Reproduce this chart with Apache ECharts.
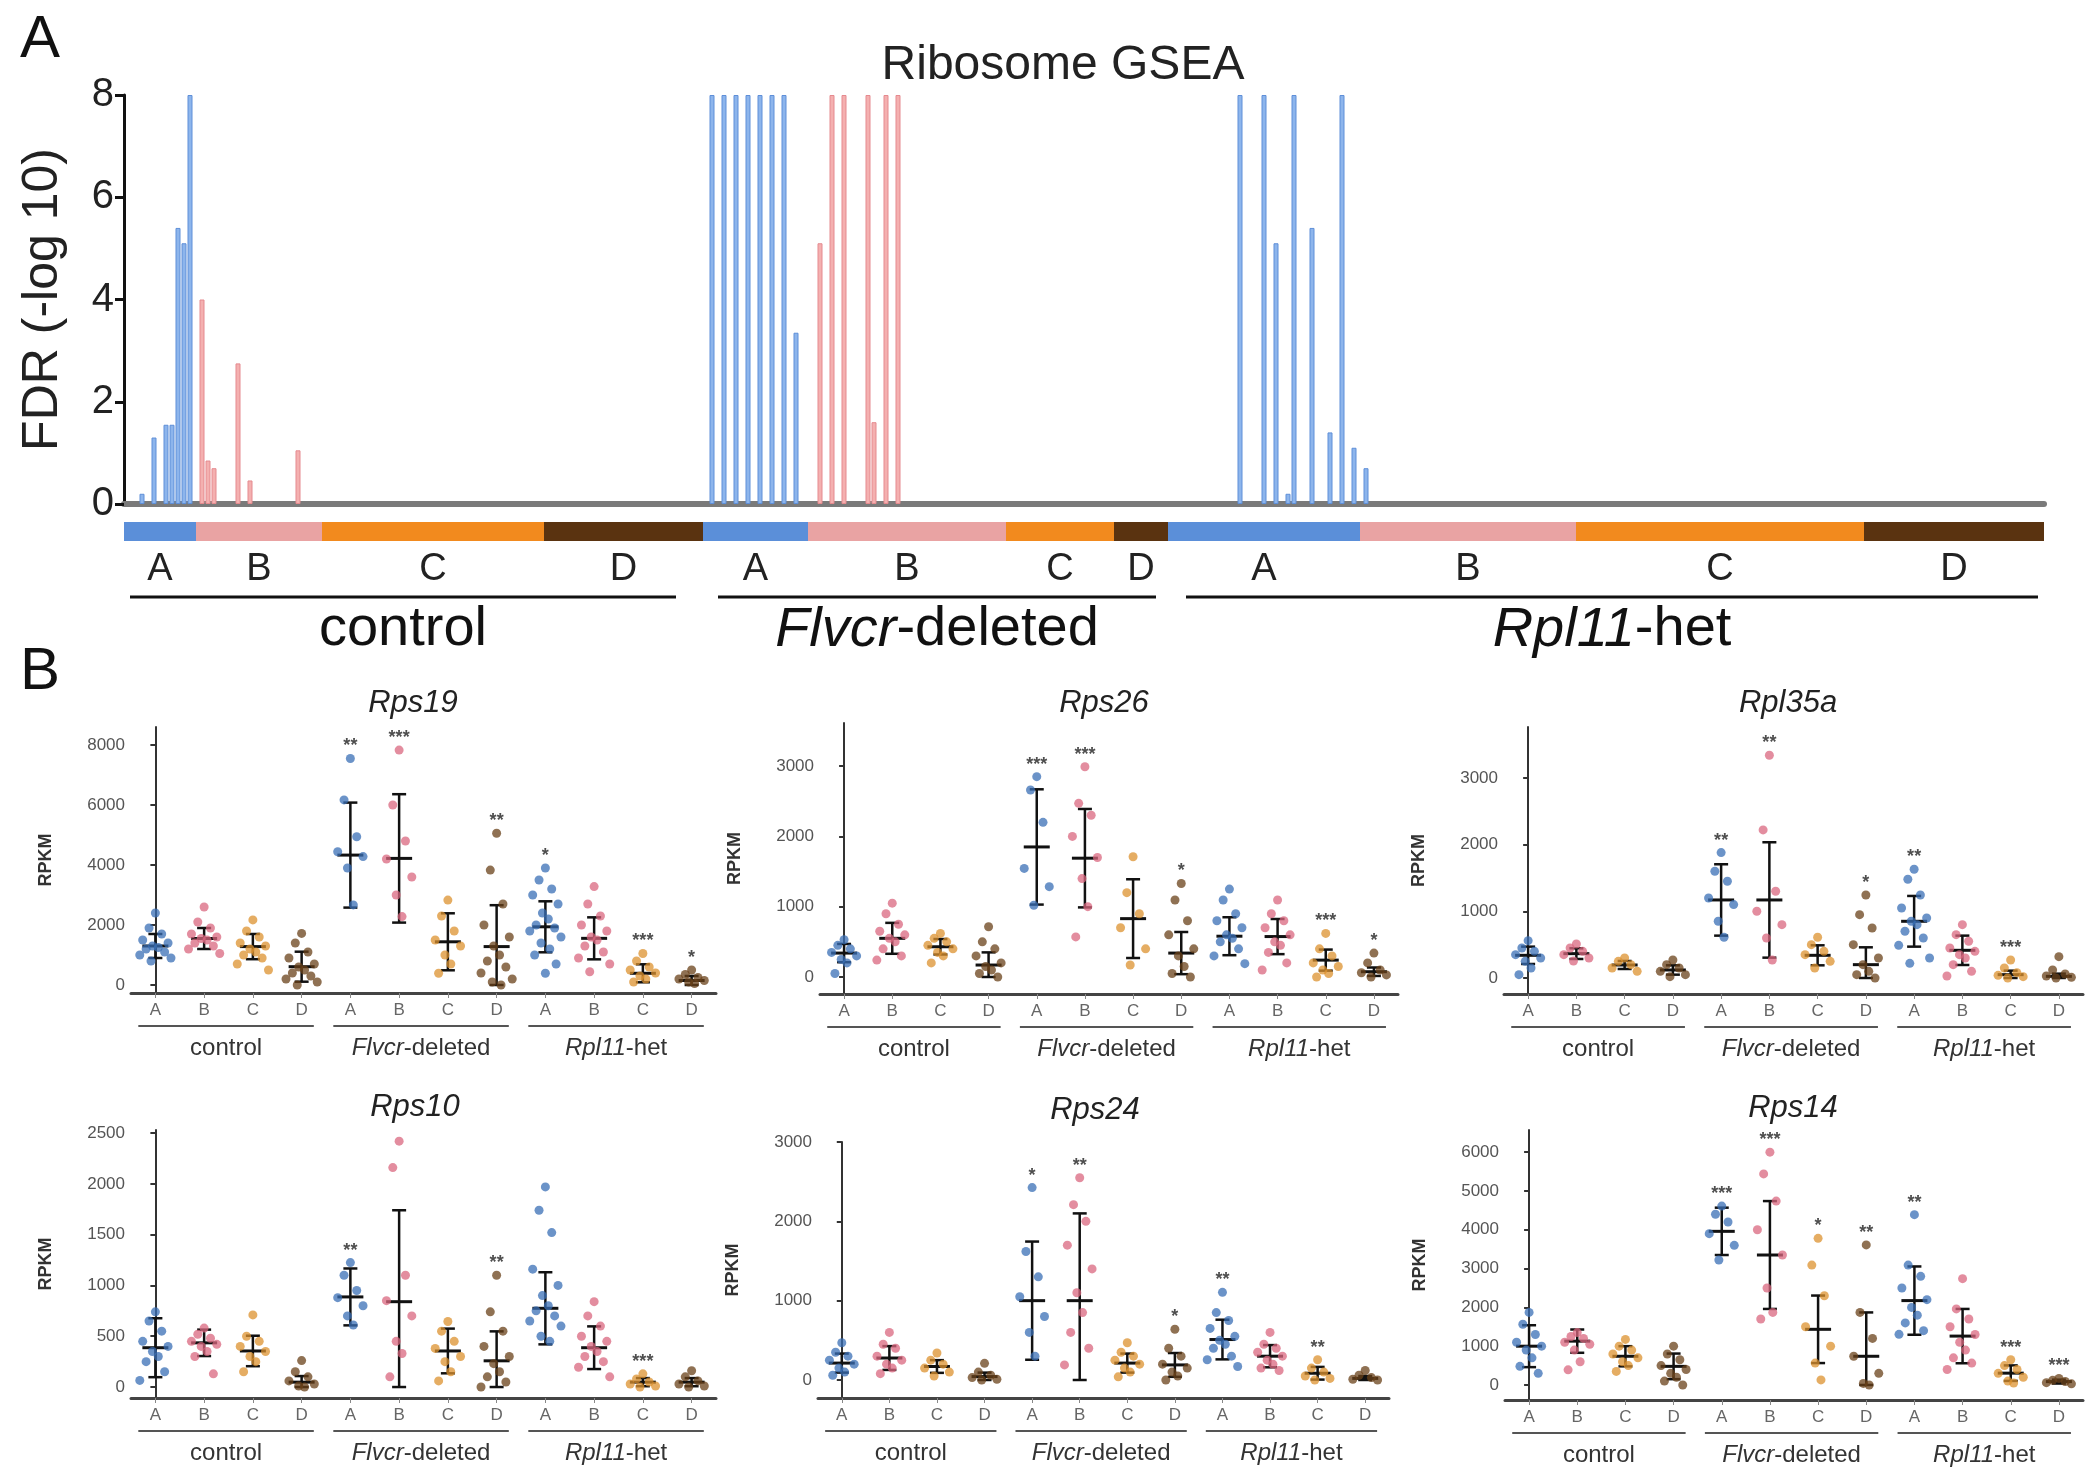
<!DOCTYPE html>
<html>
<head>
<meta charset="utf-8">
<script src="https://cdn.jsdelivr.net/npm/echarts@6/dist/echarts.min.js"></script>
<style>
html, body { margin: 0; padding: 0; background: #fff; }
#chart { width: 2100px; height: 1478px; }
</style>
</head>
<body>
<div id="chart"></div>
<script>
const FONT = '"Liberation Sans", Arial, Helvetica, sans-serif'

// ---- panel A: ribosome GSEA, one bar per sample (x = sample index) ----
const gseaBluePos = [3, 5, 7, 8, 9, 10, 11, 98, 100, 102, 104, 106, 108, 110, 112, 186, 190, 192, 194, 195, 198, 201, 203, 205, 207]
const gseaBlueFdr = [0.2, 1.3, 1.55, 1.55, 5.4, 5.1, 8, 8, 8, 8, 8, 8, 8, 8, 3.35, 8, 8, 5.1, 0.2, 8, 5.4, 1.4, 8, 1.1, 0.7]
const gseaPinkPos = [13, 14, 15, 19, 21, 29, 116, 118, 120, 124, 125, 127, 129]
const gseaPinkFdr = [4.0, 0.85, 0.7, 2.75, 0.46, 1.05, 5.1, 8, 8, 8, 1.6, 8, 8]
const fdrTicks = [0, 2, 4, 6, 8]
const stripEdges = [0, 12, 33, 70, 96.5, 114, 147, 165, 174, 206, 242, 290, 320]
const stripLetters = ['A', 'B', 'C', 'D', 'A', 'B', 'C', 'D', 'A', 'B', 'C', 'D']
const groupNames = ['control', '{i|Flvcr}-deleted', '{i|Rpl11}-het']
const gseaGroupSpans = [[1, 92], [99, 172], [177, 319]]

// ---- panel B: RPKM per sample group ----
const sampleLetters = ['A', 'B', 'C', 'D', 'A', 'B', 'C', 'D', 'A', 'B', 'C', 'D']
const plotGroupSpans = [[0, 3], [4, 7], [8, 11]]

const rps19Ticks = [0, 2000, 4000, 6000, 8000]
const rps19Points = [
  [2400, 1900, 1700, 1500, 1400, 1300, 1250, 1200, 1100, 1000, 900, 800],
  [2600, 2100, 1900, 1700, 1600, 1550, 1500, 1400, 1300, 1200, 1050],
  [2170, 1800, 1600, 1400, 1300, 1200, 1100, 1000, 900, 700, 500],
  [1720, 1400, 1100, 900, 700, 600, 500, 400, 300, 200, 100, 0],
  [7550, 6170, 4940, 4440, 4280, 3900, 2670],
  [7830, 6000, 4800, 4200, 3600, 3000, 2280],
  [2830, 2300, 1800, 1500, 1300, 1000, 700, 390],
  [5060, 3830, 2700, 2000, 1600, 1300, 1000, 800, 600, 400, 200, 100, 0],
  [3900, 3500, 3200, 3000, 2700, 2400, 2200, 2000, 1900, 1800, 1600, 1400, 1200, 1000, 700, 390],
  [3280, 2700, 2300, 2000, 1800, 1600, 1500, 1300, 1100, 900, 700, 440],
  [1050, 800, 600, 500, 400, 300, 200, 100],
  [500, 350, 250, 200, 150, 100, 50]
]
const rps19Mean = [1300, 1550, 1280, 610, 4330, 4220, 1440, 1280, 1940, 1555, 390, 150]
const rps19Sd = [400, 350, 420, 500, 1750, 2140, 950, 1380, 850, 700, 300, 150]
const rps19Stars = ['', '', '', '', '**', '***', '', '**', '*', '', '***', '*']

const rps26Ticks = [0, 1000, 2000, 3000]
const rps26Points = [
  [530, 450, 400, 350, 300, 250, 200, 50],
  [1050, 900, 750, 650, 600, 550, 500, 400, 300, 240],
  [620, 550, 500, 450, 400, 350, 300, 200],
  [715, 500, 400, 300, 200, 150, 100, 50, 0],
  [2850, 2660, 2200, 1545, 1285, 1020],
  [2990, 2470, 2300, 2000, 1700, 1400, 1000, 570],
  [1710, 1200, 900, 700, 400, 170],
  [1330, 1095, 800, 600, 400, 300, 150, 50, 0],
  [1250, 1095, 900, 800, 700, 600, 550, 500, 400, 300, 190],
  [1095, 900, 800, 700, 600, 500, 450, 350, 200, 100],
  [620, 400, 300, 200, 150, 100, 50, 0],
  [340, 200, 100, 60, 30, 0]
]
const rps26Mean = [340, 550, 430, 170, 1850, 1690, 830, 340, 580, 575, 240, 75]
const rps26Sd = [130, 220, 110, 180, 820, 700, 560, 300, 270, 250, 150, 60]
const rps26Stars = ['', '', '', '', '***', '***', '', '*', '', '', '***', '*']

const rpl35aTicks = [0, 1000, 2000, 3000]
const rpl35aPoints = [
  [560, 450, 400, 350, 300, 250, 150, 50],
  [510, 450, 400, 350, 300, 255],
  [300, 250, 200, 150, 100],
  [270, 200, 150, 100, 50, 20],
  [1880, 1600, 1450, 1200, 1100, 850, 610],
  [3340, 2220, 1300, 1000, 800, 600, 270],
  [610, 500, 400, 350, 250, 150],
  [1245, 950, 750, 500, 300, 200, 100, 50, 0],
  [1630, 1480, 1245, 1050, 900, 850, 800, 700, 600, 490, 300, 220],
  [800, 650, 550, 450, 400, 350, 300, 200, 100, 30],
  [270, 150, 80, 40, 20, 0],
  [320, 120, 60, 30, 10, 0]
]
const rpl35aMean = [340, 365, 195, 120, 1170, 1170, 340, 200, 850, 415, 50, 25]
const rpl35aSd = [130, 80, 60, 70, 535, 865, 150, 260, 380, 220, 60, 40]
const rpl35aStars = ['', '', '', '', '**', '**', '', '*', '**', '', '***', '']

const rps10Ticks = [0, 500, 1000, 1500, 2000, 2500]
const rps10Points = [
  [740, 650, 550, 450, 400, 350, 300, 250, 150, 65],
  [580, 520, 480, 450, 420, 400, 350, 300, 130],
  [710, 500, 450, 400, 350, 300, 250, 150],
  [260, 150, 100, 60, 30, 10, 0],
  [1225, 1100, 950, 880, 800, 700, 610],
  [2420, 2160, 1100, 850, 700, 450, 330, 100],
  [645, 550, 450, 380, 300, 250, 150, 60],
  [1100, 740, 550, 400, 300, 230, 150, 100, 50, 0],
  [1970, 1740, 1520, 1160, 1000, 900, 800, 750, 700, 650, 600, 500, 450],
  [840, 700, 600, 500, 450, 400, 350, 300, 250, 195, 100],
  [130, 80, 50, 30, 10, 0],
  [160, 100, 60, 30, 10, 0]
]
const rps10Mean = [387, 435, 355, 48, 887, 840, 355, 258, 775, 387, 48, 48]
const rps10Sd = [290, 130, 150, 60, 280, 900, 220, 290, 355, 210, 40, 40]
const rps10Stars = ['', '', '', '', '**', '', '', '**', '', '', '***', '']

const rps24Ticks = [0, 1000, 2000, 3000]
const rps24Points = [
  [470, 350, 300, 250, 200, 150, 100, 60],
  [600, 450, 400, 300, 250, 200, 150, 80],
  [340, 250, 200, 150, 100, 50],
  [210, 100, 60, 30, 10, 0],
  [2425, 1620, 1300, 1050, 800, 600, 300],
  [2550, 2210, 2000, 1700, 1400, 1100, 850, 600, 400, 190],
  [470, 350, 300, 250, 200, 150, 100, 40],
  [640, 400, 300, 200, 150, 100, 50, 0],
  [1105, 850, 750, 650, 550, 500, 450, 400, 300, 255, 170],
  [600, 450, 400, 350, 300, 250, 200, 150, 120],
  [255, 150, 100, 50, 20, 0],
  [120, 60, 30, 10, 0]
]
const rps24Mean = [213, 277, 170, 43, 1000, 1000, 213, 190, 510, 300, 85, 20]
const rps24Sd = [120, 150, 80, 50, 745, 1100, 120, 150, 250, 140, 80, 30]
const rps24Stars = ['', '', '', '', '*', '**', '', '*', '**', '', '**', '']

const rps14Ticks = [0, 1000, 2000, 3000, 4000, 5000, 6000]
const rps14Points = [
  [1870, 1565, 1300, 1100, 1000, 900, 700, 480, 300],
  [1350, 1250, 1200, 1100, 1050, 900, 600, 390],
  [1175, 1000, 900, 800, 700, 600, 500, 350],
  [1000, 800, 650, 500, 400, 300, 200, 100, 0],
  [4610, 4400, 4200, 3900, 3600, 3220],
  [6000, 5440, 4740, 4000, 3350, 2500, 1870, 1700],
  [3780, 3090, 2300, 1500, 1000, 565, 130],
  [3610, 1870, 1200, 740, 300, 40, 0],
  [4390, 3090, 2800, 2500, 2200, 2000, 1800, 1600, 1400, 1305],
  [2740, 1960, 1700, 1500, 1300, 1100, 900, 700, 565, 400],
  [650, 500, 400, 300, 200, 100, 50],
  [170, 120, 90, 60, 30]
]
const rps14Mean = [1000, 1130, 740, 480, 3960, 3350, 1435, 740, 2175, 1260, 305, 87]
const rps14Sd = [540, 300, 260, 330, 610, 1390, 870, 1130, 880, 700, 200, 50]
const rps14Stars = ['', '', '', '', '***', '***', '*', '**', '**', '', '***', '***']

const genes = [
  { name: 'Rps19', points: rps19Points, mean: rps19Mean, sd: rps19Sd, stars: rps19Stars, ticks: rps19Ticks },
  { name: 'Rps26', points: rps26Points, mean: rps26Mean, sd: rps26Sd, stars: rps26Stars, ticks: rps26Ticks },
  { name: 'Rpl35a', points: rpl35aPoints, mean: rpl35aMean, sd: rpl35aSd, stars: rpl35aStars, ticks: rpl35aTicks },
  { name: 'Rps10', points: rps10Points, mean: rps10Mean, sd: rps10Sd, stars: rps10Stars, ticks: rps10Ticks },
  { name: 'Rps24', points: rps24Points, mean: rps24Mean, sd: rps24Sd, stars: rps24Stars, ticks: rps24Ticks },
  { name: 'Rps14', points: rps14Points, mean: rps14Mean, sd: rps14Sd, stars: rps14Stars, ticks: rps14Ticks }
]

// layout of the six small plots (pixels) and their axis extents
const plotLayout = [
  { left: 131, top: 727, width: 585, height: 266, min: -267, max: 8600, tx: 413, ty: 703 },
  { left: 820, top: 723, width: 578, height: 271, min: -242, max: 3613, tx: 1104, ty: 703 },
  { left: 1504, top: 727, width: 579, height: 267, min: -240, max: 3763, tx: 1788, ty: 703 },
  { left: 131, top: 1130, width: 585, height: 268, min: -108, max: 2530, tx: 415, ty: 1107 },
  { left: 818, top: 1142, width: 571, height: 256, min: -227, max: 3000, tx: 1095, ty: 1110 },
  { left: 1505, top: 1130, width: 578, height: 270, min: -387, max: 6572, tx: 1793, ty: 1108 }
]

const stripColors = { A: '#5b8fd9', B: '#e9a3a3', C: '#f28a1e', D: '#5a3310' }
const dotColors = { A: '#3a6fb5', B: '#d9677f', C: '#dc922f', D: '#6a4219' }
const jitter = [0, -0.13, 0.13, -0.26, 0.26, -0.06, 0.06, -0.19, 0.19, -0.32, 0.32, -0.09, 0.09, -0.22, 0.22, 0]

const chart = echarts.init(document.getElementById('chart'))

const grids = [{ left: 124, top: 95, width: 1920, height: 409 }]
const xAxes = [{
  type: 'value', gridIndex: 0, min: 0, max: 320,
  axisLine: { show: true, onZero: false, lineStyle: { color: '#7a7a7a', width: 6 } },
  axisTick: { show: false }, axisLabel: { show: false }, splitLine: { show: false }
}]
const yAxes = [{
  type: 'value', gridIndex: 0, min: 0, max: 8, interval: 2,
  name: 'FDR (-log 10)', nameLocation: 'middle', nameGap: 56,
  nameTextStyle: { fontSize: 50, fontFamily: FONT, color: '#222' },
  axisLine: { show: true, lineStyle: { color: '#111', width: 3 } },
  axisTick: { show: true, length: 9, lineStyle: { color: '#111', width: 3 } },
  axisLabel: { fontSize: 40, fontFamily: FONT, color: '#222', margin: 10 },
  splitLine: { show: false }
}]

const series = [
  {
    type: 'bar', xAxisIndex: 0, yAxisIndex: 0, barWidth: 5, barGap: '-100%',
    data: gseaBluePos.map((p, i) => [p, gseaBlueFdr[i]]),
    itemStyle: { color: '#8db5ec', borderColor: '#5f8fd8', borderWidth: 1 }
  },
  {
    type: 'bar', xAxisIndex: 0, yAxisIndex: 0, barWidth: 5, barGap: '-100%',
    data: gseaPinkPos.map((p, i) => [p, gseaPinkFdr[i]]),
    itemStyle: { color: '#f4b0b0', borderColor: '#e58a8f', borderWidth: 1 }
  },
  {
    type: 'custom', xAxisIndex: 0, yAxisIndex: 0, silent: true,
    data: stripLetters.map((l, i) => [stripEdges[i], stripEdges[i + 1], i]),
    renderItem(params, api) {
      const i = api.value(2)
      const p0 = api.coord([api.value(0), 0])
      const p1 = api.coord([api.value(1), 0])
      return {
        type: 'group',
        children: [
          { type: 'rect', shape: { x: p0[0], y: p0[1] + 18, width: p1[0] - p0[0], height: 19 },
            style: { fill: stripColors[stripLetters[i]] } },
          { type: 'text', x: (p0[0] + p1[0]) / 2, y: p0[1] + 66,
            style: { text: stripLetters[i], fill: '#222', fontSize: 38, fontFamily: FONT, align: 'center', verticalAlign: 'middle' } }
        ]
      }
    }
  },
  {
    type: 'custom', xAxisIndex: 0, yAxisIndex: 0, silent: true,
    data: gseaGroupSpans.map((s, i) => [s[0], s[1], i]),
    renderItem(params, api) {
      const i = api.value(2)
      const p0 = api.coord([api.value(0), 0])
      const p1 = api.coord([api.value(1), 0])
      return {
        type: 'group',
        children: [
          { type: 'line', shape: { x1: p0[0], y1: p0[1] + 93, x2: p1[0], y2: p0[1] + 93 },
            style: { stroke: '#111', lineWidth: 3 } },
          { type: 'text', x: (p0[0] + p1[0]) / 2, y: p0[1] + 126,
            style: {
              text: groupNames[i], fill: '#111', fontSize: 56, fontFamily: FONT, align: 'center', verticalAlign: 'middle',
              rich: { i: { fontStyle: 'italic', fontSize: 56, fontFamily: FONT, fill: '#111', color: '#111' } }
            } }
        ]
      }
    }
  }
]

const graphics = [
  { type: 'text', x: 20, y: 10, style: { text: 'A', fontSize: 60, fontFamily: FONT, fill: '#111' } },
  { type: 'text', x: 20, y: 642, style: { text: 'B', fontSize: 60, fontFamily: FONT, fill: '#111' } },
  { type: 'text', x: 1063, y: 66,
    style: { text: 'Ribosome GSEA', fontSize: 48, fontFamily: FONT, fill: '#222', align: 'center', verticalAlign: 'middle' } }
]

genes.forEach((g, p) => {
  const L = plotLayout[p]
  const gi = p + 1
  const catAxis = xAxes.length
  const valAxis = catAxis + 1
  const yi = yAxes.length
  grids.push({ left: L.left, top: L.top, width: L.width, height: L.height })
  xAxes.push({
    type: 'category', gridIndex: gi, data: sampleLetters,
    axisLine: { show: true, onZero: false, lineStyle: { color: '#444', width: 3 } },
    axisTick: { show: true, alignWithLabel: true, length: 5, lineStyle: { color: '#888' } },
    axisLabel: { fontSize: 17, fontFamily: FONT, color: '#666', margin: 9 },
    splitLine: { show: false }
  })
  xAxes.push({ type: 'value', gridIndex: gi, min: -0.5, max: 11.5, show: false })
  yAxes.push({
    type: 'value', gridIndex: gi, min: L.min, max: L.max,
    name: 'RPKM', nameLocation: 'middle', nameGap: 76,
    nameTextStyle: { fontSize: 18, fontWeight: 'bold', fontFamily: FONT, color: '#333' },
    axisLine: { show: true, lineStyle: { color: '#333', width: 2 } },
    axisTick: { show: true, length: 5, customValues: g.ticks, lineStyle: { color: '#333', width: 2 } },
    axisLabel: { fontSize: 17, fontFamily: FONT, color: '#555', margin: 6, customValues: g.ticks, formatter: (v) => String(v) },
    splitLine: { show: false }
  })

  const dots = []
  g.points.forEach((vals, i) => {
    vals.forEach((v, k) => dots.push([i + jitter[k % jitter.length], v, i]))
  })
  series.push({
    type: 'scatter', xAxisIndex: valAxis, yAxisIndex: yi, symbolSize: 9, silent: true,
    data: dots,
    itemStyle: { opacity: 0.75, color: (prm) => dotColors[sampleLetters[prm.data[2]]] }
  })
  series.push({
    type: 'custom', xAxisIndex: valAxis, yAxisIndex: yi, silent: true,
    encode: { x: 0, y: 1 },
    data: g.mean.map((m, i) => [i, m, g.sd[i]]),
    renderItem(params, api) {
      const x = api.value(0), m = api.value(1), s = api.value(2)
      const c = api.coord([x, m])
      const t = api.coord([x, m + s])
      const b = api.coord([x, Math.max(0, m - s)])
      const st = { stroke: '#111', lineWidth: 2.5 }
      return {
        type: 'group',
        children: [
          { type: 'line', shape: { x1: c[0], y1: t[1], x2: c[0], y2: b[1] }, style: st },
          { type: 'line', shape: { x1: c[0] - 7, y1: t[1], x2: c[0] + 7, y2: t[1] }, style: st },
          { type: 'line', shape: { x1: c[0] - 7, y1: b[1], x2: c[0] + 7, y2: b[1] }, style: st },
          { type: 'line', shape: { x1: c[0] - 13, y1: c[1], x2: c[0] + 13, y2: c[1] }, style: { stroke: '#111', lineWidth: 3 } }
        ]
      }
    }
  })
  const starData = []
  g.stars.forEach((s, i) => {
    if (!s) return
    starData.push({ name: s, value: [i, Math.max(...g.points[i], g.mean[i] + g.sd[i] * 0.5)] })
  })
  series.push({
    type: 'scatter', xAxisIndex: valAxis, yAxisIndex: yi, symbolSize: 0, silent: true,
    data: starData,
    label: { show: true, position: 'top', distance: 3, formatter: '{b}', fontSize: 18, fontWeight: 'bold', fontFamily: FONT, color: '#222' }
  })
  series.push({
    type: 'custom', xAxisIndex: valAxis, yAxisIndex: yi, silent: true,
    encode: { x: 0, y: 1 },
    data: plotGroupSpans.map((s, i) => [s[0], s[1], i]),
    renderItem(params, api) {
      const i = api.value(2)
      const bottom = params.coordSys.y + params.coordSys.height
      const x0 = api.coord([api.value(0) - 0.35, 0])[0]
      const x1 = api.coord([api.value(1) + 0.25, 0])[0]
      return {
        type: 'group',
        children: [
          { type: 'line', shape: { x1: x0, y1: bottom + 33, x2: x1, y2: bottom + 33 }, style: { stroke: '#555', lineWidth: 2 } },
          { type: 'text', x: (x0 + x1) / 2, y: bottom + 55,
            style: {
              text: groupNames[i], fill: '#333', fontSize: 24, fontFamily: FONT, align: 'center', verticalAlign: 'middle',
              rich: { i: { fontStyle: 'italic', fontSize: 24, fontFamily: FONT, fill: '#333', color: '#333' } }
            } }
        ]
      }
    }
  })
  graphics.push({
    type: 'text', x: L.tx, y: L.ty,
    style: { text: g.name, fontSize: 31, fontStyle: 'italic', fontFamily: FONT, fill: '#222', align: 'center', verticalAlign: 'middle' }
  })
})

chart.setOption({
  animation: false,
  backgroundColor: '#fff',
  grid: grids,
  xAxis: xAxes,
  yAxis: yAxes,
  series: series,
  graphic: graphics
})
</script>
</body>
</html>
